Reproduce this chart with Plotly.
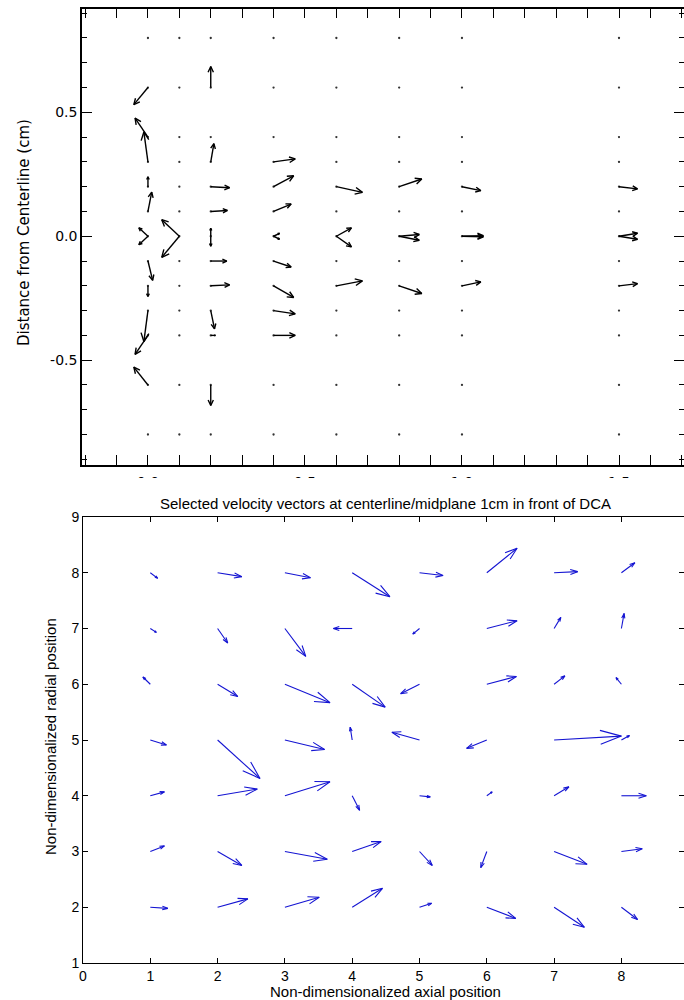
import math
import plotly.graph_objects as go

W, H = 684, 1000

# ---------------- Top panel data (IDL-style velocity vectors) ----------------
TOP_GRID_X = [0.0, 0.1, 0.2, 0.4, 0.6, 0.8, 1.0, 1.5]
TOP_GRID_Y = [0.8, 0.6, 0.4, 0.3, 0.2, 0.1, 0.0, -0.1, -0.2, -0.3, -0.4, -0.6, -0.8]

TOP_X = [0.0, 0.0, 0.0, 0.0, 0.0, 0.0, 0.0, 0.0, 0.0, 0.0, 0.0, 0.0,
         0.1, 0.1,
         0.2, 0.2, 0.2, 0.2, 0.2, 0.2, 0.2, 0.2, 0.2, 0.2, 0.2,
         0.4, 0.4, 0.4, 0.4, 0.4, 0.4, 0.4, 0.4, 0.4,
         0.6, 0.6, 0.6, 0.6,
         0.8, 0.8, 0.8, 0.8,
         1.0, 1.0, 1.0, 1.0,
         1.5, 1.5, 1.5, 1.5]
TOP_Y = [0.6, 0.4, 0.3, 0.2, 0.1, 0.0, 0.0, -0.1, -0.2, -0.3, -0.4, -0.6,
         0.0, 0.0,
         0.6, 0.3, 0.2, 0.1, 0.0, 0.0, -0.1, -0.2, -0.3, -0.4, -0.6,
         0.3, 0.2, 0.1, 0.0, 0.0, -0.1, -0.2, -0.3, -0.4,
         0.2, 0.0, 0.0, -0.2,
         0.2, 0.0, 0.0, -0.2,
         0.2, 0.0, 0.0, -0.2,
         0.2, 0.0, 0.0, -0.2]
TOP_U = [-0.045, -0.041, -0.013, 0.0, 0.012, -0.029, -0.029, 0.015, 0.0, -0.013, -0.041, -0.045,
         -0.056, -0.056,
         0.0, 0.010, 0.060, 0.053, 0.0, 0.0, 0.051, 0.060, 0.012, 0.015, 0.0,
         0.069, 0.064, 0.056, 0.019, 0.019, 0.056, 0.064, 0.069, 0.069,
         0.083, 0.048, 0.048, 0.083,
         0.072, 0.064, 0.064, 0.072,
         0.060, 0.068, 0.068, 0.060,
         0.059, 0.059, 0.059, 0.059]
TOP_V = [-0.069, 0.077, 0.121, 0.040, 0.078, 0.034, -0.034, -0.078, -0.043, -0.125, -0.077, 0.072,
         0.067, -0.085,
         0.085, 0.074, -0.004, 0.004, 0.032, -0.040, 0.0, 0.004, -0.074, 0.0, -0.083,
         0.012, 0.044, 0.030, 0.012, -0.012, -0.024, -0.047, -0.013, 0.0,
         -0.023, 0.034, -0.043, 0.020,
         0.031, 0.007, -0.016, -0.031,
         -0.016, 0.002, -0.002, 0.016,
         -0.009, 0.012, -0.012, 0.009]

TOP_XTICKS = [0.0, 0.5, 1.0, 1.5]
TOP_XLABELS = ["0.0", "0.5", "1.0", "1.5"]
TOP_YTICKS = [-0.5, 0.0, 0.5]
TOP_YLABELS = ["-0.5", "0.0", "0.5"]

# ---------------- Bottom panel data (MATLAB quiver) ----------------
BOT_X = [1, 2, 3, 4, 5, 6, 7, 8]
BOT_Y = [8, 7, 6, 5, 4, 3, 2]
BOT_U = [
    [0.11, 0.36, 0.38, 0.56, 0.35, 0.45, 0.35, 0.20],
    [0.09, 0.15, 0.31, -0.28, -0.10, 0.45, 0.10, 0.04],
    [-0.11, 0.30, 0.67, 0.49, -0.28, 0.44, 0.16, -0.08],
    [0.24, 0.63, 0.59, -0.03, -0.41, -0.30, 1.00, 0.12],
    [0.21, 0.59, 0.67, 0.11, 0.16, 0.08, 0.22, 0.37],
    [0.21, 0.36, 0.63, 0.43, 0.19, -0.09, 0.49, 0.31],
    [0.26, 0.45, 0.51, 0.45, 0.18, 0.43, 0.45, 0.24],
]
BOT_V = [
    [-0.10, -0.07, -0.09, -0.43, -0.05, 0.44, 0.02, 0.18],
    [-0.07, -0.26, -0.50, 0.00, -0.10, 0.14, 0.20, 0.27],
    [0.13, -0.22, -0.33, -0.41, -0.17, 0.14, 0.15, 0.12],
    [-0.09, -0.69, -0.17, 0.23, 0.14, -0.15, 0.07, 0.08],
    [0.07, 0.12, 0.25, -0.26, -0.02, 0.07, 0.16, 0.00],
    [0.10, -0.25, -0.14, 0.18, -0.25, -0.29, -0.23, 0.05],
    [-0.02, 0.15, 0.18, 0.34, 0.07, -0.20, -0.36, -0.22],
]
BOT_TITLE = "Selected velocity vectors at centerline/midplane 1cm in front of DCA"
BOT_XTITLE = "Non-dimensionalized axial position"
BOT_YTITLE = "Non-dimensionalized radial position"
TOP_YTITLE = "Distance from Centerline (cm)"


def PX(p):  # window x pixel -> paper x
    return p / W


def PY(p):  # window y pixel -> paper y
    return 1 - p / H


# ---------------- layout geometry ----------------
T_XDOM = [PX(82), 1.0]
T_YDOM = [PY(465), PY(8.5)]
T_XR = [-0.21, 1.707]
T_YR = [-0.923, 0.919]

B_XDOM = [PX(83), 1.0]
B_YDOM = [PY(963), PY(517)]
B_XR = [0, 8.93]
B_YR = [1, 9]


def px_scale(dom, rng, size):
    return (dom[1] - dom[0]) * size / (rng[1] - rng[0])


def arrows(xs, ys, us, vs, sx, sy, head_frac, half_ang):
    px, py = [], []
    for x, y, u, v in zip(xs, ys, us, vs):
        dx, dy = u * sx, v * sy
        L = math.hypot(dx, dy)
        if L == 0:
            continue
        tx, ty = x + u, y + v
        a = math.atan2(dy, dx)
        hl = head_frac * L
        w1x = tx + hl * math.cos(a + math.pi - half_ang) / sx
        w1y = ty + hl * math.sin(a + math.pi - half_ang) / sy
        w2x = tx + hl * math.cos(a + math.pi + half_ang) / sx
        w2y = ty + hl * math.sin(a + math.pi + half_ang) / sy
        px += [x, tx, None, w1x, tx, w2x, None]
        py += [y, ty, None, w1y, ty, w2y, None]
    return px, py


fig = go.Figure()

# top panel grid dots
gx = [x for y in TOP_GRID_Y for x in TOP_GRID_X]
gy = [y for y in TOP_GRID_Y for x in TOP_GRID_X]
fig.add_trace(go.Scatter(x=gx, y=gy, mode="markers", xaxis="x", yaxis="y",
                         marker=dict(size=2.3, color="#333333"),
                         showlegend=False, hoverinfo="skip"))

tsx = px_scale(T_XDOM, T_XR, W)
tsy = px_scale(T_YDOM, T_YR, H)
ax, ay = arrows(TOP_X, TOP_Y, TOP_U, TOP_V, tsx, tsy, 0.3, math.radians(25))
fig.add_trace(go.Scatter(x=ax, y=ay, mode="lines", xaxis="x", yaxis="y",
                         line=dict(color="black", width=1.4),
                         showlegend=False, hoverinfo="skip"))

# bottom panel quiver
bxs, bys, bus, bvs = [], [], [], []
for i, yv in enumerate(BOT_Y):
    for j, xv in enumerate(BOT_X):
        bxs.append(xv)
        bys.append(yv)
        bus.append(BOT_U[i][j])
        bvs.append(BOT_V[i][j])
bsx = px_scale(B_XDOM, B_XR, W)
bsy = px_scale(B_YDOM, B_YR, H)
qx, qy = arrows(bxs, bys, bus, bvs, bsx, bsy, 0.33, math.atan(0.33))
fig.add_trace(go.Scatter(x=qx, y=qy, mode="lines", xaxis="x2", yaxis="y2",
                         line=dict(color="#1414d2", width=1.1),
                         showlegend=False, hoverinfo="skip"))

# dummy traces for right-side tick axes
fig.add_trace(go.Scatter(x=[None], y=[None], xaxis="x", yaxis="y3",
                         showlegend=False, hoverinfo="skip"))
fig.add_trace(go.Scatter(x=[None], y=[None], xaxis="x2", yaxis="y4",
                         showlegend=False, hoverinfo="skip"))

idl_font = dict(family="DejaVu Sans", size=14, color="black")
mat_font = dict(family="Liberation Sans, Arial", size=14, color="black")
mat_title = dict(family="Liberation Sans, Arial", size=15, color="black")

fig.update_layout(
    width=W, height=H,
    margin=dict(l=0, r=0, t=0, b=0, autoexpand=False),
    paper_bgcolor="white", plot_bgcolor="white",
    showlegend=False,
    xaxis=dict(domain=T_XDOM, range=T_XR, anchor="y",
               tickmode="array", tickvals=TOP_XTICKS, ticktext=TOP_XLABELS,
               ticks="inside", ticklen=10, tickwidth=1, tickcolor="black",
               ticklabelstandoff=3,
               minor=dict(dtick=0.1, tick0=0, ticks="inside", ticklen=5,
                          tickcolor="black", tickwidth=1, showgrid=False),
               showline=True, linecolor="black", linewidth=1.5, mirror="allticks",
               showgrid=False, zeroline=False, tickfont=idl_font),
    yaxis=dict(domain=T_YDOM, range=T_YR, anchor="x",
               tickmode="array", tickvals=TOP_YTICKS, ticktext=TOP_YLABELS,
               ticks="inside", ticklen=10, tickwidth=1, tickcolor="black",
               minor=dict(dtick=0.1, tick0=0, ticks="inside", ticklen=5,
                          tickcolor="black", tickwidth=1, showgrid=False),
               showline=True, linecolor="black", linewidth=1.5,
               showgrid=False, zeroline=False, tickfont=idl_font),
    yaxis3=dict(overlaying="y", anchor="x", side="right", range=T_YR,
                tickmode="array", tickvals=TOP_YTICKS,
                ticks="inside", ticklen=10, tickwidth=1, tickcolor="black",
                minor=dict(dtick=0.1, tick0=0, ticks="inside", ticklen=5,
                           tickcolor="black", tickwidth=1, showgrid=False),
                showline=False, showticklabels=False, showgrid=False, zeroline=False),
    xaxis2=dict(domain=B_XDOM, range=B_XR, anchor="y2", dtick=1, tick0=0,
                ticks="inside", ticklen=5, tickwidth=1, tickcolor="black",
                showline=True, linecolor="black", linewidth=1, mirror="ticks",
                showgrid=False, zeroline=False, tickfont=mat_font),
    yaxis2=dict(domain=B_YDOM, range=B_YR, anchor="x2", dtick=1, tick0=0,
                ticks="inside", ticklen=5, tickwidth=1, tickcolor="black",
                showline=True, linecolor="black", linewidth=1,
                showgrid=False, zeroline=False, tickfont=mat_font),
    yaxis4=dict(overlaying="y2", anchor="x2", side="right", range=B_YR, dtick=1, tick0=0,
                ticks="inside", ticklen=5, tickwidth=1, tickcolor="black",
                showline=False, showticklabels=False, showgrid=False, zeroline=False),
    shapes=[dict(type="rect", xref="paper", yref="paper", layer="above",
                 x0=0, x1=1, y0=PY(496), y1=PY(478),
                 fillcolor="white", line=dict(width=0))],
    annotations=[
        dict(text=TOP_YTITLE, xref="paper", yref="paper", x=PX(24), y=PY(233),
             textangle=-90, showarrow=False, font=dict(family="DejaVu Sans", size=15, color="black"),
             xanchor="center", yanchor="middle"),
        dict(text=BOT_TITLE, xref="paper", yref="paper", x=PX(385), y=PY(503),
             showarrow=False, font=mat_title,
             xanchor="center", yanchor="middle"),
        dict(text=BOT_XTITLE, xref="paper", yref="paper", x=PX(385), y=PY(991),
             showarrow=False, font=mat_title,
             xanchor="center", yanchor="middle"),
        dict(text=BOT_YTITLE, xref="paper", yref="paper", x=PX(50), y=PY(737),
             textangle=-90, showarrow=False, font=mat_title,
             xanchor="center", yanchor="middle"),
    ],
)

fig.write_html(
    "out.html",
    config={"displayModeBar": False},
    post_script="document.body.style.margin='0px';document.body.style.overflow='hidden';",
)
